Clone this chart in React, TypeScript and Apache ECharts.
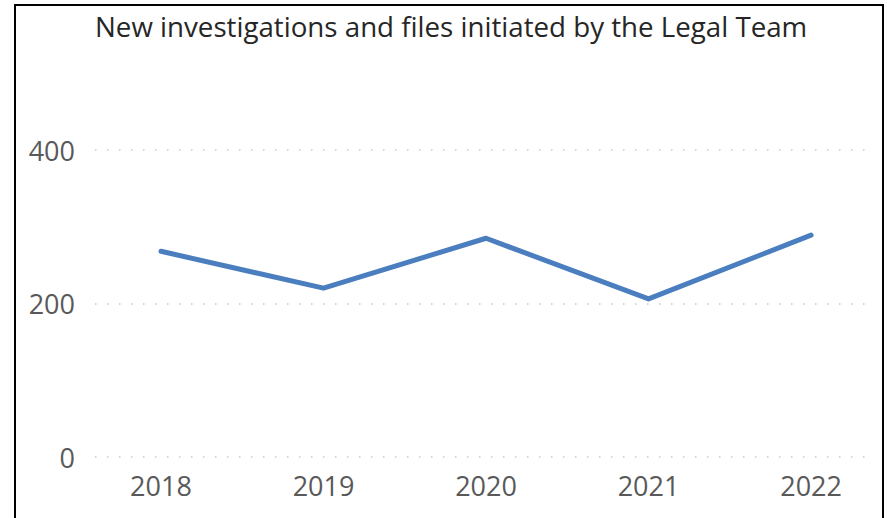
import React, { useEffect, useRef } from "react";
import * as echarts from "echarts";

const years = [2018, 2019, 2020, 2021, 2022];
const cases = [268, 220, 285, 206, 289];
const yTicks = [0, 200, 400];
const titleText = "New investigations and files initiated by the Legal Team";

export default function App() {
  const ref = useRef<HTMLDivElement>(null);
  useEffect(() => {
    document.body.style.overflow = "hidden";
    if (!ref.current) return;
    const chart = echarts.init(ref.current, null, { renderer: "svg" });
    chart.setOption({
      animation: false,
      backgroundColor: "#ffffff",
      title: {
        text: titleText,
        left: 90,
        top: 7,
        textStyle: {
          fontFamily: "Open Sans",
          fontSize: 27.7,
          fontWeight: "normal",
          color: "#262626",
        },
      },
      grid: { left: 95, right: 21, top: 150, bottom: 61, containLabel: false },
      xAxis: {
        type: "value",
        min: 2017.594,
        max: 2022.338,
        axisLine: { show: false },
        axisTick: { show: false },
        splitLine: { show: false },
        axisLabel: {
          customValues: years,
          formatter: (v: number) => String(Math.round(v)),
          fontFamily: "Open Sans",
          fontSize: 27,
          color: "#595959",
          margin: 15,
        },
      },
      yAxis: {
        type: "value",
        min: yTicks[0],
        max: yTicks[yTicks.length - 1],
        interval: 200,
        axisLine: { show: false },
        axisTick: { show: false },
        axisLabel: {
          fontFamily: "Open Sans",
          fontSize: 27,
          color: "#595959",
          margin: 20,
        },
        splitLine: {
          show: true,
          lineStyle: { color: "#c8c8c8", width: 1.5, type: [1.5, 10.5] },
        },
      },
      series: [
        {
          type: "line",
          data: years.map((y, i) => [y, cases[i]]),
          symbol: "none",
          lineStyle: { color: "#4a7ebf", width: 5, cap: "round", join: "round" },
        },
      ],
    });
    return () => chart.dispose();
  }, []);
  return (
    <div
      style={{
        position: "fixed",
        left: 0,
        top: 0,
        width: 887,
        height: 518,
        overflow: "hidden",
        background: "#ffffff",
      }}
    >
      <div ref={ref} style={{ width: 887, height: 518 }} />
      <div
        style={{
          position: "absolute",
          left: 14,
          top: 4,
          width: 866,
          height: 600,
          border: "2.5px solid #000000",
          pointerEvents: "none",
        }}
      />
    </div>
  );
}
